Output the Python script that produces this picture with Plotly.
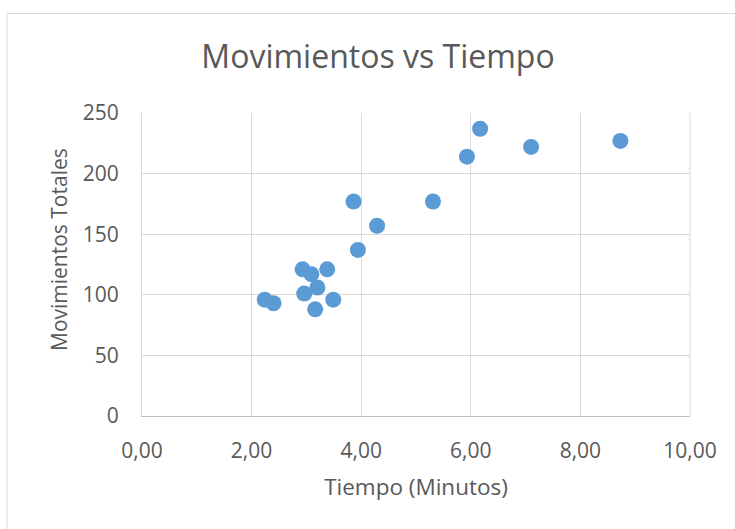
import plotly.graph_objects as go

# Tiempo (minutos) y movimientos totales por observación
tiempo_min = [2.24, 2.40, 2.93, 3.09, 3.38, 2.96, 3.20, 3.16, 3.49,
              3.86, 3.94, 4.29, 5.31, 5.93, 6.17, 7.10, 8.73]
movimientos = [96, 93, 121, 117, 121, 101, 106, 88, 96,
               177, 137, 157, 177, 214, 237, 222, 227]

x_ticks = [0, 2, 4, 6, 8, 10]
y_ticks = [0, 50, 100, 150, 200, 250]

text_color = "#595959"
grid_color = "#D9D9D9"
font_family = "Open Sans, Liberation Sans, sans-serif"

W, H = 735, 529
L, R, T, B = 142, 45, 113, 113
plot_w = W - L - R
plot_h = H - T - B

fig = go.Figure(
    go.Scatter(
        x=tiempo_min,
        y=movimientos,
        mode="markers",
        marker=dict(color="#5B9BD5", size=16, line=dict(width=0)),
        showlegend=False,
    )
)

fig.update_layout(
    width=W,
    height=H,
    margin=dict(l=L, r=R, t=T, b=B),
    paper_bgcolor="white",
    plot_bgcolor="white",
    separators=",.",
    font=dict(family=font_family, color=text_color, size=21),
    title=dict(
        text="Movimientos vs Tiempo",
        font=dict(size=32, color=text_color),
        x=378 / W,
        xanchor="center",
        y=1 - 57 / H,
        yanchor="middle",
    ),
    xaxis=dict(
        range=[0, 10],
        tickvals=x_ticks,
        tickformat=".2f",
        showgrid=True,
        gridcolor=grid_color,
        gridwidth=1,
        zeroline=False,
        showline=True,
        linecolor="#BFBFBF",
        linewidth=1,
        ticks="outside",
        ticklen=16,
        tickcolor="rgba(0,0,0,0)",
        tickfont=dict(size=21),
        title=dict(text="Tiempo (Minutos)", font=dict(size=22.5), standoff=16),
    ),
    yaxis=dict(
        range=[0, 250],
        tickvals=y_ticks,
        showgrid=True,
        gridcolor=grid_color,
        gridwidth=1,
        zeroline=False,
        showline=True,
        linecolor=grid_color,
        linewidth=1,
        ticks="outside",
        ticklen=18,
        tickcolor="rgba(0,0,0,0)",
        tickfont=dict(size=21),
    ),
    annotations=[
        # vertical axis title
        dict(
            text="Movimientos Totales",
            xref="paper",
            yref="paper",
            x=(59 - L) / plot_w,
            y=(H - B - 250) / plot_h,
            xanchor="center",
            yanchor="middle",
            textangle=-90,
            showarrow=False,
            font=dict(size=21, color=text_color),
        )
    ],
    shapes=[
        # outer chart frame
        dict(
            type="rect",
            xref="paper",
            yref="paper",
            x0=(7 - L) / plot_w,
            x1=(W + 10 - L) / plot_w,
            y0=-(H + 10 - (H - B)) / plot_h,
            y1=(H - B - 13.5) / plot_h,
            line=dict(color="#D9D9D9", width=1),
            fillcolor="rgba(0,0,0,0)",
            layer="below",
        ),
        # right edge of the plot area
        dict(
            type="line",
            xref="paper",
            yref="paper",
            x0=1, x1=1, y0=0, y1=1,
            line=dict(color=grid_color, width=1),
        ),
    ],
)

fig.write_html("out.html")
